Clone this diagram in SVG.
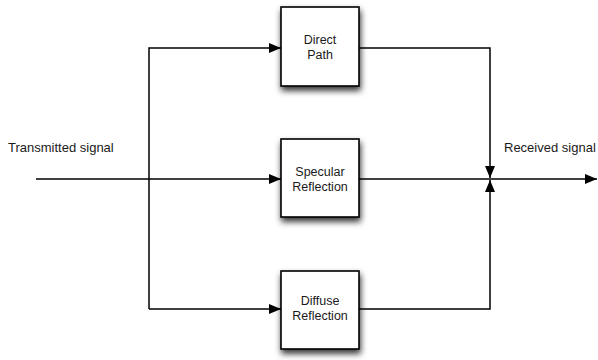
<svg xmlns="http://www.w3.org/2000/svg" width="598" height="360" viewBox="0 0 598 360">
<style>
.box{fill:#fff;stroke:#000;stroke-width:1.6;filter:url(#sh)}
.lbl{font-family:"Liberation Sans",Arial,sans-serif;font-size:12.5px;fill:#1a1a1a;text-anchor:middle}
.t{font-family:"Liberation Sans",Arial,sans-serif;font-size:13px;fill:#1a1a1a}
.ln{fill:none;stroke:#000;stroke-width:1.5}
</style>
<defs>
<filter id="sh" x="-20%" y="-20%" width="150%" height="150%">
<feDropShadow dx="1" dy="4" stdDeviation="3" flood-color="#000" flood-opacity="0.8"/>
</filter>
<marker id="ah" markerWidth="12" markerHeight="10" refX="12" refY="5" orient="auto" markerUnits="userSpaceOnUse">
<path d="M0,0 L12,5 L0,10 Z" fill="#000"/>
</marker>
</defs>
<rect width="598" height="360" fill="#fff"/>
<g id="connectors">
<line class="ln" x1="36" y1="179" x2="281" y2="179" marker-end="url(#ah)"/>
<path class="ln" d="M149,309 L149,48 L281,48" marker-end="url(#ah)"/>
<path class="ln" d="M149,309 L281,309" marker-end="url(#ah)"/>
<line class="ln" x1="359" y1="179" x2="597" y2="179" marker-end="url(#ah)"/>
<path class="ln" d="M359,48 L490,48 L490,178" marker-end="url(#ah)"/>
<path class="ln" d="M359,309 L490,309 L490,180" marker-end="url(#ah)"/>
</g>
<g id="direct">
<rect class="box" x="281" y="7" width="78" height="79"/>
<text class="lbl" x="320" y="44">Direct</text>
<text class="lbl" x="320" y="59">Path</text>
</g>
<g id="specular">
<rect class="box" x="281" y="139" width="78" height="78"/>
<text class="lbl" x="320" y="176">Specular</text>
<text class="lbl" x="320" y="191">Reflection</text>
</g>
<g id="diffuse">
<rect class="box" x="281" y="271" width="78" height="78"/>
<text class="lbl" x="320" y="305">Diffuse</text>
<text class="lbl" x="320" y="320">Reflection</text>
</g>
<g id="labels">
<text class="t" x="8" y="152">Transmitted signal</text>
<text class="t" x="504" y="152">Received signal</text>
</g>
</svg>
